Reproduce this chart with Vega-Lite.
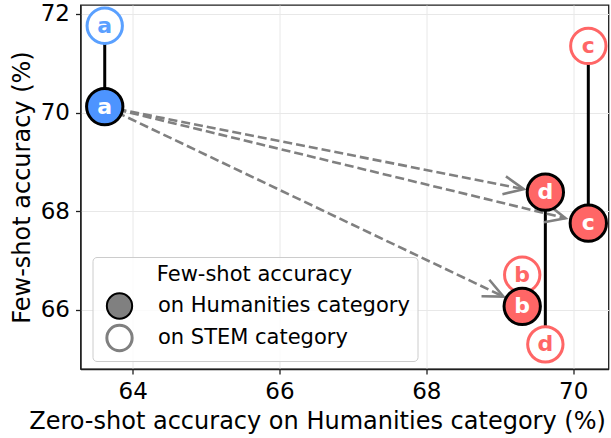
{
  "$schema": "https://vega.github.io/schema/vega-lite/v6.json",
  "width": 528,
  "height": 364,
  "autosize": {"type": "none"},
  "padding": {"left": 80.5, "top": 5, "right": 2.5, "bottom": 69},
  "background": "white",
  "config": {
    "font": "DejaVu Sans",
    "view": {"stroke": "#1f1f1f", "strokeWidth": 1.3},
    "axis": {
      "labelFont": "DejaVu Sans", "labelFontSize": 23, "labelColor": "black",
      "titleFont": "DejaVu Sans", "titleFontSize": 24, "titleFontWeight": "normal", "titleColor": "black",
      "domainColor": "#1f1f1f", "domainWidth": 1.3, "tickColor": "#1f1f1f", "tickWidth": 1.3, "tickSize": 5,
      "gridColor": "#e8e8e8", "gridWidth": 1, "labelPadding": 6
    }
  },
  "datasets": {
    "models": [
      {"model": "a", "zero_shot": 63.62, "humanities": 70.12, "stem": 71.76},
      {"model": "b", "zero_shot": 69.305, "humanities": 66.07, "stem": 66.71},
      {"model": "c", "zero_shot": 70.205, "humanities": 67.757, "stem": 71.35},
      {"model": "d", "zero_shot": 69.62, "humanities": 68.385, "stem": 65.3}
    ],
    "arrows": [
      {"target": "d", "x": 63.62, "y": 70.12, "x2": 69.327, "y2": 68.446},
      {"target": "c", "x": 63.62, "y": 70.12, "x2": 69.895, "y2": 67.858},
      {"target": "b", "x": 63.62, "y": 70.12, "x2": 69.05, "y2": 66.268}
    ]
  },
  "layer": [
    {
      "data": {"name": "models"},
      "mark": {"type": "rule", "color": "black", "strokeWidth": 3},
      "encoding": {
        "x": {"field": "zero_shot", "type": "quantitative", "title": "Zero-shot accuracy on Humanities category (%)",
              "scale": {"domain": [63.29, 70.48], "nice": false, "zero": false},
              "axis": {"values": [64, 66, 68, 70], "format": "d", "grid": true, "titlePadding": 6, "titleX": 236.5, "titleAlign": "center", "titleAnchor": "start"}},
        "y": {"field": "humanities", "type": "quantitative", "title": "Few-shot accuracy (%)",
              "scale": {"domain": [64.8, 72.18], "nice": false, "zero": false},
              "axis": {"values": [66, 68, 70, 72], "format": "d", "grid": true, "titlePadding": 6}},
        "y2": {"field": "stem"}
      }
    },
    {
      "data": {"name": "arrows"},
      "mark": {"type": "rule", "color": "#808080", "strokeWidth": 2.6, "strokeDash": [9, 4]},
      "encoding": {
        "x": {"field": "x", "type": "quantitative", "title": "Zero-shot accuracy on Humanities category (%)",
              "scale": {"domain": [63.29, 70.48], "nice": false, "zero": false}},
        "y": {"field": "y", "type": "quantitative", "title": "Few-shot accuracy (%)",
              "scale": {"domain": [64.8, 72.18], "nice": false, "zero": false}},
        "x2": {"field": "x2"},
        "y2": {"field": "y2"}
      }
    },
    {
      "data": {"name": "arrows"},
      "transform": [
        {"calculate": "atan2(-(datum.y2 - datum.y) * 49.32, (datum.x2 - datum.x) * 73.44) * 180 / PI", "as": "angle"}
      ],
      "mark": {"type": "point", "shape": "M-2.2,-1L0,0L-2.2,1", "filled": false, "color": "#808080", "strokeWidth": 2.6, "size": 331, "opacity": 1},
      "encoding": {
        "x": {"field": "x2", "type": "quantitative", "title": "Zero-shot accuracy on Humanities category (%)",
              "scale": {"domain": [63.29, 70.48], "nice": false, "zero": false}},
        "y": {"field": "y2", "type": "quantitative", "title": "Few-shot accuracy (%)",
              "scale": {"domain": [64.8, 72.18], "nice": false, "zero": false}},
        "angle": {"field": "angle", "type": "quantitative", "scale": null}
      }
    },
    {
      "data": {"name": "models"},
      "mark": {"type": "point", "shape": "circle", "filled": true, "fill": "white", "strokeWidth": 3, "size": 1250, "opacity": 1},
      "encoding": {
        "x": {"field": "zero_shot", "type": "quantitative", "title": "Zero-shot accuracy on Humanities category (%)",
              "scale": {"domain": [63.29, 70.48], "nice": false, "zero": false}},
        "y": {"field": "stem", "type": "quantitative", "title": "Few-shot accuracy (%)",
              "scale": {"domain": [64.8, 72.18], "nice": false, "zero": false}},
        "stroke": {"field": "model", "type": "nominal", "scale": {"domain": ["a", "b", "c", "d"], "range": ["#5aa0ff", "#ff6666", "#ff6666", "#ff6666"]}, "legend": null},
        "shape": {"datum": "on STEM category", "type": "nominal",
                  "scale": {"domain": ["on Humanities category", "on STEM category"], "range": ["circle", "circle"]}}
      }
    },
    {
      "data": {"name": "models"},
      "mark": {"type": "point", "filled": true, "stroke": "black", "strokeWidth": 3, "size": 1320, "opacity": 1},
      "encoding": {
        "x": {"field": "zero_shot", "type": "quantitative", "title": "Zero-shot accuracy on Humanities category (%)",
              "scale": {"domain": [63.29, 70.48], "nice": false, "zero": false}},
        "y": {"field": "humanities", "type": "quantitative", "title": "Few-shot accuracy (%)",
              "scale": {"domain": [64.8, 72.18], "nice": false, "zero": false}},
        "fill": {"field": "model", "type": "nominal", "scale": {"domain": ["a", "b", "c", "d"], "range": ["#4d94ff", "#ff6666", "#ff6666", "#ff6666"]}, "legend": null},
        "shape": {"datum": "on Humanities category", "type": "nominal",
                  "scale": {"domain": ["on Humanities category", "on STEM category"], "range": ["circle", "circle"]},
                  "legend": {
                    "title": "Few-shot accuracy",
                    "orient": "none", "legendX": 12, "legendY": 252,
                    "titleFont": "DejaVu Sans", "titleFontSize": 21, "titleFontWeight": "normal", "titleColor": "black", "titleLimit": 400,
                    "titleAnchor": "middle",
                    "labelFont": "DejaVu Sans", "labelFontSize": 21, "labelColor": "black", "labelLimit": 400,
                    "symbolSize": 640, "symbolOffset": 9.5, "labelOffset": 28,
                    "symbolType": "circle",
                    "symbolFillColor": "#808080", "symbolStrokeColor": "#000000", "symbolStrokeWidth": 2, "symbolOpacity": 1,
                    "padding": 7, "rowPadding": 0, "titlePadding": 5, "clipHeight": 32,
                    "fillColor": "rgba(255,255,255,0.8)", "strokeColor": "#cccccc", "cornerRadius": 4,
                    "encode": {
                      "symbols": {"update": {
                        "fill": {"signal": "datum.value === 'on STEM category' ? 'white' : '#808080'"},
                        "stroke": {"signal": "datum.value === 'on STEM category' ? '#808080' : '#000000'"},
                        "strokeWidth": {"signal": "datum.value === 'on STEM category' ? 3 : 2"}
                      }}
                    }
                  }}
      }
    },
    {
      "data": {"name": "models"},
      "mark": {"type": "text", "font": "DejaVu Sans", "fontWeight": "bold", "fontSize": 22, "align": "center", "baseline": "middle"},
      "encoding": {
        "x": {"field": "zero_shot", "type": "quantitative", "title": "Zero-shot accuracy on Humanities category (%)",
              "scale": {"domain": [63.29, 70.48], "nice": false, "zero": false}},
        "y": {"field": "stem", "type": "quantitative", "title": "Few-shot accuracy (%)",
              "scale": {"domain": [64.8, 72.18], "nice": false, "zero": false}},
        "text": {"field": "model"},
        "color": {"field": "model", "type": "nominal", "scale": {"domain": ["a", "b", "c", "d"], "range": ["#5aa0ff", "#ff6666", "#ff6666", "#ff6666"]}, "legend": null}
      }
    },
    {
      "data": {"name": "models"},
      "mark": {"type": "text", "font": "DejaVu Sans", "fontWeight": "bold", "fontSize": 22, "align": "center", "baseline": "middle", "color": "white"},
      "encoding": {
        "x": {"field": "zero_shot", "type": "quantitative", "title": "Zero-shot accuracy on Humanities category (%)",
              "scale": {"domain": [63.29, 70.48], "nice": false, "zero": false}},
        "y": {"field": "humanities", "type": "quantitative", "title": "Few-shot accuracy (%)",
              "scale": {"domain": [64.8, 72.18], "nice": false, "zero": false}},
        "text": {"field": "model"}
      }
    }
  ]
}
